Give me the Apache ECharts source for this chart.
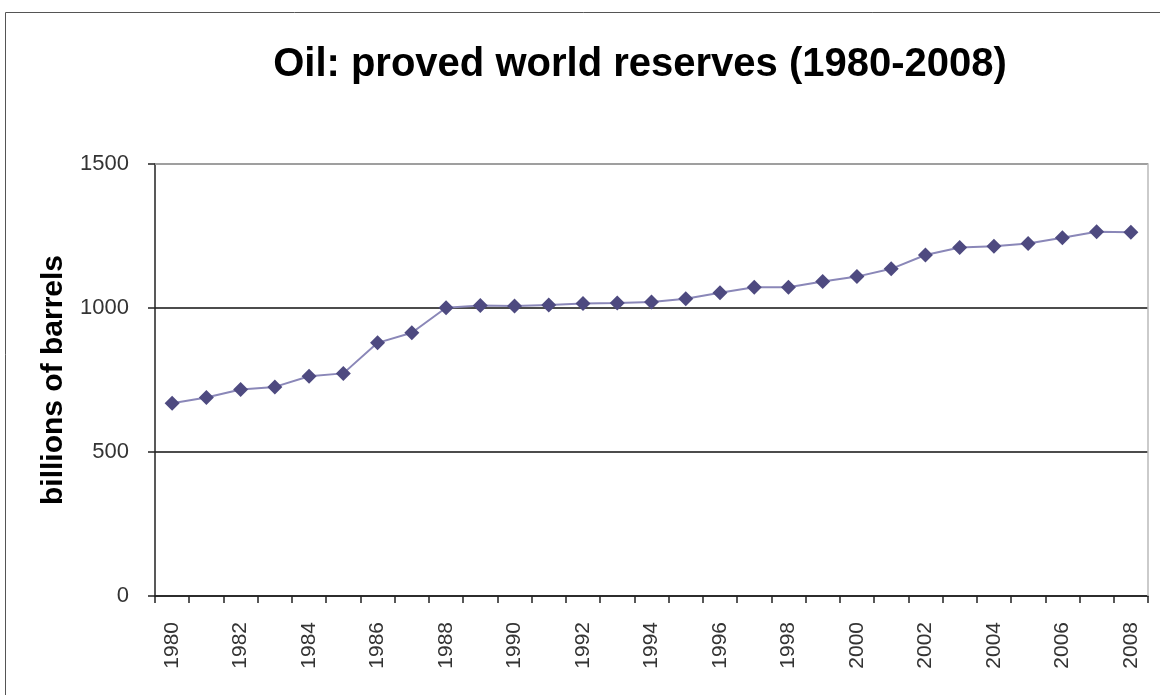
<!DOCTYPE html>
<html><head><meta charset="utf-8">
<script src="https://cdn.jsdelivr.net/npm/echarts@6/dist/echarts.min.js"></script>
<style>html,body{margin:0;padding:0;background:#fff}#c{width:1160px;height:695px}</style>
</head><body><div id="c"></div>
<script>
const years = ['1980','1981','1982','1983','1984','1985','1986','1987','1988','1989','1990','1991','1992','1993','1994','1995','1996','1997','1998','1999','2000','2001','2002','2003','2004','2005','2006','2007','2008'];
const reserves = [669,689,717,726,763,773,879,914,1001,1009,1007,1010,1016,1017,1021,1032,1053,1072,1072,1092,1109,1136,1184,1210,1214,1224,1244,1265,1263];
const yTicks = [0,500,1000,1500];
const titleText = 'Oil: proved world reserves (1980-2008)';
const yName = 'billions of barrels';

const chart = echarts.init(document.getElementById('c'));
chart.setOption({
  animation:false,
  backgroundColor:'#fff',
  title:{text:titleText,left:635,textAlign:'center',top:40,
    textStyle:{fontFamily:'Liberation Sans, Arial',fontSize:40,fontWeight:'bold',color:'#000'}},
  graphic:[
    {type:'rect',shape:{x:5.5,y:12.5,width:1200,height:800},style:{fill:'none',stroke:'#555',lineWidth:1},z:-1},
    {type:'polyline',shape:{points:[[155,164],[1148,164],[1148,596]]},style:{fill:'none',stroke:'#bbb',lineWidth:1.5},z:1}
  ],
  grid:{left:155,right:12,top:164,bottom:99},
  xAxis:{type:'category',data:years,boundaryGap:true,
    axisLine:{lineStyle:{color:'#222',width:1.5}},
    axisTick:{show:true,interval:0,length:7,lineStyle:{color:'#222',width:1.5}},
    axisLabel:{interval:1,rotate:90,margin:26,fontFamily:'Liberation Sans, Arial',fontSize:21,color:'#333'},
    splitLine:{show:false}},
  yAxis:{type:'value',min:0,max:1500,interval:500,
    name:yName,nameLocation:'middle',nameGap:86,
    nameTextStyle:{fontFamily:'Liberation Sans, Arial',fontSize:30,fontWeight:'bold',color:'#000'},
    axisLine:{show:true,lineStyle:{color:'#222',width:1.5}},
    axisTick:{show:true,length:7,lineStyle:{color:'#222',width:1.5}},
    axisLabel:{margin:26,fontFamily:'Liberation Sans, Arial',fontSize:22,color:'#333',
      formatter:v=>yTicks.includes(v)?String(v):''},
    splitLine:{show:true,lineStyle:{color:'#111',width:1.5}}},
  series:[{type:'line',data:reserves,symbol:'diamond',symbolSize:15,
    itemStyle:{color:'#4E4A80'},lineStyle:{color:'#8A87B8',width:2}}]
});
</script></body></html>
